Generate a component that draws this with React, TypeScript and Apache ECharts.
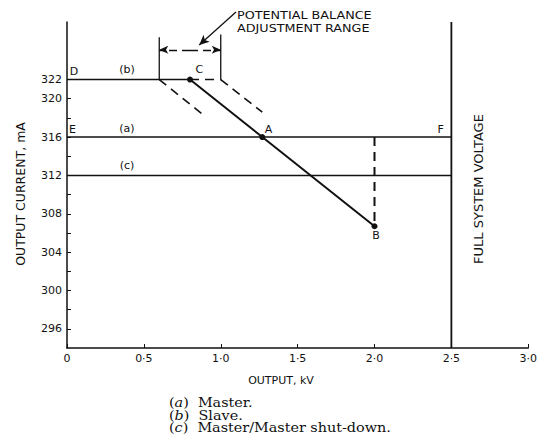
import React, { useEffect, useRef } from 'react';
import * as echarts from 'echarts';

// ---- data ----
const xTickValues = [0, 0.5, 1.0, 1.5, 2.0, 2.5, 3.0];
const xTickLabels = ['0', '0·5', '1·0', '1·5', '2·0', '2·5', '3·0'];
const yLabelValues = [296, 300, 304, 308, 312, 316, 320, 322];
const yTickValues = [296, 298, 300, 302, 304, 306, 308, 310, 312, 314, 316, 318, 320, 322];

const masterLine = [[0, 316], [2.5, 316]]; // (a)
const shutdownLine = [[0, 312], [2.5, 312]]; // (c)
const slaveFlat = [[0, 322], [0.8, 322]]; // (b)
const slaveFlatDashed = [[0.8, 322], [1.0, 322]];
const slaveDroop = [[0.8, 322], [1.27, 316], [2.0, 306.7]]; // C - A - B
const dropAtB = [[2.0, 316], [2.0, 306.7]];
const rangeLowDroop = [[0.6, 322], [0.88, 318.4]];
const rangeHighDroop = [[1.0, 322], [1.27, 318.6]];
const rangeLowMark = [[0.6, 322], [0.6, 326.4]];
const rangeHighMark = [[1.0, 322], [1.0, 326.7]];
const rangeArrowY = 325.1;
const rangeArrowMid = 0.8;
const annotationTip = [0.86, 325.6];
const fullVoltageLine = [[2.5, 294], [2.5, 328]];
const pointLabels: { text: string; x: number; y: number }[] = [
  { text: 'D', x: 0.045, y: 322.8 },
  { text: '(b)', x: 0.39, y: 323.0 },
  { text: 'C', x: 0.86, y: 323.0 },
  { text: 'E', x: 0.035, y: 316.8 },
  { text: '(a)', x: 0.39, y: 316.9 },
  { text: '(c)', x: 0.39, y: 313.0 },
  { text: 'A', x: 1.31, y: 316.75 },
  { text: 'F', x: 2.43, y: 316.75 },
  { text: 'B', x: 2.01, y: 305.7 },
];
const legendItems = [
  { key: 'a', text: 'Master.' },
  { key: 'b', text: 'Slave.' },
  { key: 'c', text: 'Master/Master shut-down.' },
];

const INK = '#111';
const SANS = '"DejaVu Sans", sans-serif';
const SERIF = '"DejaVu Serif", "Liberation Serif", serif';

function solid(data: number[][], width = 1.5, extra: any = {}) {
  return {
    type: 'line',
    data,
    symbol: 'none',
    silent: true,
    clip: false,
    lineStyle: { color: INK, width, type: 'solid' },
    ...extra,
  };
}

function dashed(data: number[][], width = 1.6) {
  return {
    type: 'line',
    data,
    symbol: 'none',
    silent: true,
    clip: false,
    lineStyle: { color: INK, width, type: [9, 6] },
  };
}

export default function App() {
  const ref = useRef<HTMLDivElement>(null);
  useEffect(() => {
    document.body.style.margin = '0';
    const chart = echarts.init(ref.current!, null, { renderer: 'svg' });
    const staticGraphics: any[] = [
      {
        type: 'text',
        x: 237,
        y: 9,
        scaleX: 1.16,
        style: {
          text: 'POTENTIAL BALANCE\nADJUSTMENT RANGE',
          fill: INK,
          font: `11px ${SANS}`,
          lineHeight: 13,
        },
      },
      {
        type: 'text',
        x: 478,
        y: 189,
        rotation: Math.PI / 2,
        style: {
          text: 'FULL SYSTEM VOLTAGE',
          fill: INK,
          font: `13px ${SANS}`,
          align: 'center',
          verticalAlign: 'middle',
        },
      },
      {
        type: 'text',
        x: 20,
        y: 194,
        rotation: Math.PI / 2,
        style: {
          text: 'OUTPUT CURRENT, mA',
          fill: INK,
          font: `12.5px ${SANS}`,
          align: 'center',
          verticalAlign: 'middle',
        },
      },
      {
        type: 'text',
        x: 281,
        y: 380,
        style: {
          text: 'OUTPUT, kV',
          fill: INK,
          font: `11px ${SANS}`,
          align: 'center',
          verticalAlign: 'middle',
        },
      },
      ...legendItems.map((it, i) => ({
        type: 'text',
        x: 169,
        y: 403 + i * 12.6,
        scaleX: 1.16,
        style: {
          text: `{p|(}{i|${it.key}}{p|)  ${it.text}}`,
          verticalAlign: 'middle',
          rich: {
            p: { fill: INK, font: `12.4px ${SERIF}`, lineHeight: 12 },
            i: { fill: INK, font: `italic 12.4px ${SERIF}`, lineHeight: 12 },
          },
        },
      })),
    ];
    chart.setOption({
      animation: false,
      backgroundColor: '#fff',
      grid: { left: 67, right: 11, top: 22, bottom: 93, containLabel: false },
      xAxis: {
        type: 'value',
        min: 0,
        max: 3,
        interval: 0.5,
        splitLine: { show: false },
        axisLine: { show: true, onZero: false, lineStyle: { color: INK, width: 1.5 } },
        axisTick: { show: true, inside: true, length: 4, lineStyle: { color: INK } },
        axisLabel: {
          color: INK,
          fontFamily: SANS,
          fontSize: 11,
          margin: 5,
          formatter: (v: number) => {
            const i = xTickValues.findIndex((t) => Math.abs(t - v) < 1e-6);
            return i >= 0 ? xTickLabels[i] : '';
          },
        },
      },
      yAxis: {
        type: 'value',
        min: 294,
        max: 328,
        interval: 2,
        splitLine: { show: false },
        axisLine: { show: true, onZero: false, lineStyle: { color: INK, width: 1.5 } },
        axisTick: { show: true, inside: true, length: 4, customValues: yTickValues, lineStyle: { color: INK } },
        axisLabel: {
          color: INK,
          fontFamily: SANS,
          fontSize: 11,
          margin: 5,
          customValues: yLabelValues,
        },
      },
      series: [
        solid(masterLine),
        solid(shutdownLine),
        solid(slaveFlat),
        dashed(slaveFlatDashed),
        solid(slaveDroop, 2, {
          symbol: 'circle',
          symbolSize: 6,
          showSymbol: true,
          itemStyle: { color: INK },
        }),
        dashed(dropAtB, 2),
        dashed(rangeLowDroop),
        dashed(rangeHighDroop),
        solid(rangeLowMark, 1.3),
        solid(rangeHighMark, 1.3),
        solid(fullVoltageLine, 1.8, {
          markLine: {
            silent: true,
            animation: false,
            label: { show: false },
            lineStyle: { color: INK, width: 1.3 },
            data: [
              [
                { coord: [rangeArrowMid, rangeArrowY], symbol: 'none', lineStyle: { type: [8, 5] } },
                { coord: [rangeLowMark[0][0], rangeArrowY], symbol: 'arrow', symbolSize: [6, 9], lineStyle: { type: [8, 5] } },
              ],
              [
                { coord: [rangeArrowMid, rangeArrowY], symbol: 'none', lineStyle: { type: [8, 5] } },
                { coord: [rangeHighMark[0][0], rangeArrowY], symbol: 'arrow', symbolSize: [6, 9], lineStyle: { type: [8, 5] } },
              ],
              [
                { x: 236, y: 12, symbol: 'none', lineStyle: { type: 'solid' } },
                { coord: annotationTip, symbol: 'arrow', symbolSize: [7, 10], lineStyle: { type: 'solid' } },
              ],
            ],
          },
        }),
      ],
      graphic: staticGraphics,
    });
    const labelGraphics = pointLabels.map((p) => {
      const [px, py] = chart.convertToPixel({ gridIndex: 0 }, [p.x, p.y]) as number[];
      return {
        type: 'text',
        x: px,
        y: py,
        silent: true,
        style: {
          text: p.text,
          fill: INK,
          font: `11px ${SANS}`,
          align: 'center',
          verticalAlign: 'middle',
        },
      };
    });
    chart.setOption({ graphic: [...staticGraphics, ...labelGraphics] }, { replaceMerge: ['graphic'] });
    return () => chart.dispose();
  }, []);
  return <div ref={ref} style={{ width: 540, height: 441 }} />;
}
